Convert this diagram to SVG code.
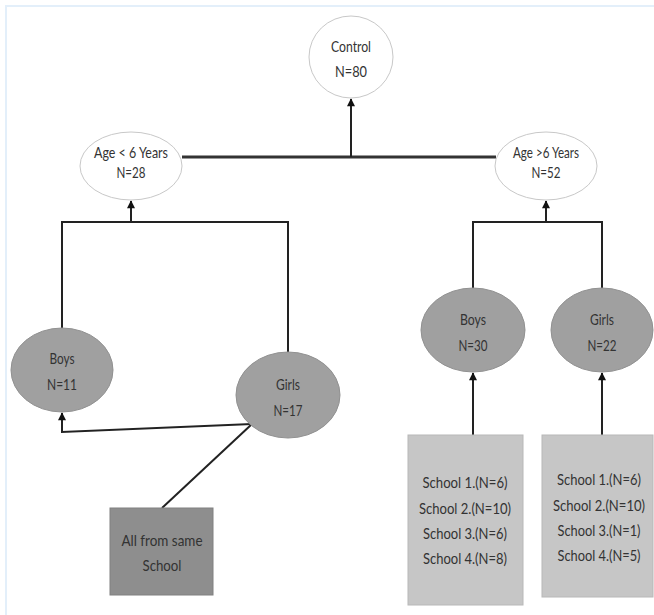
<svg xmlns="http://www.w3.org/2000/svg" width="654" height="615" viewBox="0 0 654 615">
<style>
.t{font-family:Lato,"Liberation Sans",sans-serif;font-size:16px;fill:#333;text-anchor:middle}
.s{font-size:14.5px}
.w{fill:#fff;stroke:#c8c8c8;stroke-width:1}
.g{fill:#a0a0a0;stroke:#919191;stroke-width:1}
.c{fill:none;stroke:#222;stroke-width:2}
.c3{fill:none;stroke:#333;stroke-width:3}
</style>
<defs>
<marker id="ah" viewBox="0 0 10 10" refX="9" refY="5" markerWidth="10" markerHeight="8" orient="auto" markerUnits="userSpaceOnUse">
<path d="M0,0 L10,5 L0,10 z" fill="#111"/>
</marker>
</defs>
<rect x="0" y="0" width="654" height="615" fill="#fff"/>
<path d="M6,615 V6 H654" fill="none" stroke="#e3effa" stroke-width="2"/>
<g id="connectors">
<line class="c3" x1="182" y1="157" x2="496" y2="157"/>
<line class="c" x1="351" y1="157" x2="351" y2="99" marker-end="url(#ah)"/>
<path class="c" d="M62,328 V222 H288 V352"/>
<line class="c" x1="131" y1="222" x2="131" y2="201" marker-end="url(#ah)"/>
<path class="c" d="M252,424 L62,432 V413" marker-end="url(#ah)"/>
<line class="c" x1="252" y1="424" x2="162" y2="508"/>
<path class="c" d="M473,288 V222 H602 V288"/>
<line class="c" x1="546" y1="222" x2="546" y2="201" marker-end="url(#ah)"/>
<line class="c" x1="473" y1="435" x2="473" y2="373" marker-end="url(#ah)"/>
<line class="c" x1="602" y1="435" x2="602" y2="373" marker-end="url(#ah)"/>
</g>
<g id="control">
<ellipse class="w" cx="351" cy="57" rx="42" ry="41"/>
<text class="t" x="351" y="52" textLength="40" lengthAdjust="spacingAndGlyphs">Control</text>
<text class="t" x="351" y="77" textLength="32" lengthAdjust="spacingAndGlyphs">N=80</text>
</g>
<g id="age-lt6">
<ellipse class="w" cx="131" cy="166" rx="51" ry="34"/>
<text class="t" x="131" y="158" textLength="74" lengthAdjust="spacingAndGlyphs">Age &lt; 6 Years</text>
<text class="t" x="131" y="178" textLength="29" lengthAdjust="spacingAndGlyphs">N=28</text>
</g>
<g id="age-gt6">
<ellipse class="w" cx="546" cy="166" rx="51" ry="34"/>
<text class="t" x="546" y="158" textLength="66" lengthAdjust="spacingAndGlyphs">Age &gt;6 Years</text>
<text class="t" x="546" y="178" textLength="29" lengthAdjust="spacingAndGlyphs">N=52</text>
</g>
<g id="boys-left">
<ellipse class="g" cx="62" cy="370" rx="51" ry="42"/>
<text class="t" x="62" y="364" textLength="25" lengthAdjust="spacingAndGlyphs">Boys</text>
<text class="t" x="62" y="390" textLength="30" lengthAdjust="spacingAndGlyphs">N=11</text>
</g>
<g id="girls-left">
<ellipse class="g" cx="288" cy="395" rx="52" ry="43"/>
<text class="t" x="288" y="390" textLength="24" lengthAdjust="spacingAndGlyphs">Girls</text>
<text class="t" x="288" y="416" textLength="29" lengthAdjust="spacingAndGlyphs">N=17</text>
</g>
<g id="same-school">
<rect x="110" y="508" width="103" height="87" fill="#8e8e8e" stroke="#808080" stroke-width="1"/>
<text class="t" x="162" y="546" textLength="81" lengthAdjust="spacingAndGlyphs">All from same</text>
<text class="t" x="162" y="571" textLength="39" lengthAdjust="spacingAndGlyphs">School</text>
</g>
<g id="boys-right">
<ellipse class="g" cx="473" cy="330" rx="52" ry="42"/>
<text class="t" x="473" y="325" textLength="26" lengthAdjust="spacingAndGlyphs">Boys</text>
<text class="t" x="473" y="351" textLength="29" lengthAdjust="spacingAndGlyphs">N=30</text>
</g>
<g id="girls-right">
<ellipse class="g" cx="602" cy="330" rx="51" ry="42"/>
<text class="t" x="602" y="325" textLength="24" lengthAdjust="spacingAndGlyphs">Girls</text>
<text class="t" x="602" y="351" textLength="29" lengthAdjust="spacingAndGlyphs">N=22</text>
</g>
<g id="schools-boys">
<rect x="408" y="435" width="115" height="170" fill="#c6c6c6" stroke="#b8b8b8" stroke-width="1"/>
<text class="t" x="465" y="488" textLength="85" lengthAdjust="spacingAndGlyphs">School 1.(N=6)</text>
<text class="t" x="465" y="514" textLength="92" lengthAdjust="spacingAndGlyphs">School 2.(N=10)</text>
<text class="t" x="465" y="539" textLength="84" lengthAdjust="spacingAndGlyphs">School 3.(N=6)</text>
<text class="t" x="465" y="564" textLength="84" lengthAdjust="spacingAndGlyphs">School 4.(N=8)</text>
</g>
<g id="schools-girls">
<rect x="542" y="435" width="111" height="162" fill="#c6c6c6" stroke="#b8b8b8" stroke-width="1"/>
<text class="t s" x="599" y="485" textLength="84" lengthAdjust="spacingAndGlyphs">School 1.(N=6)</text>
<text class="t s" x="599" y="511" textLength="92" lengthAdjust="spacingAndGlyphs">School 2.(N=10)</text>
<text class="t s" x="599" y="536" textLength="83" lengthAdjust="spacingAndGlyphs">School 3.(N=1)</text>
<text class="t s" x="599" y="561" textLength="83" lengthAdjust="spacingAndGlyphs">School 4.(N=5)</text>
</g>
</svg>
